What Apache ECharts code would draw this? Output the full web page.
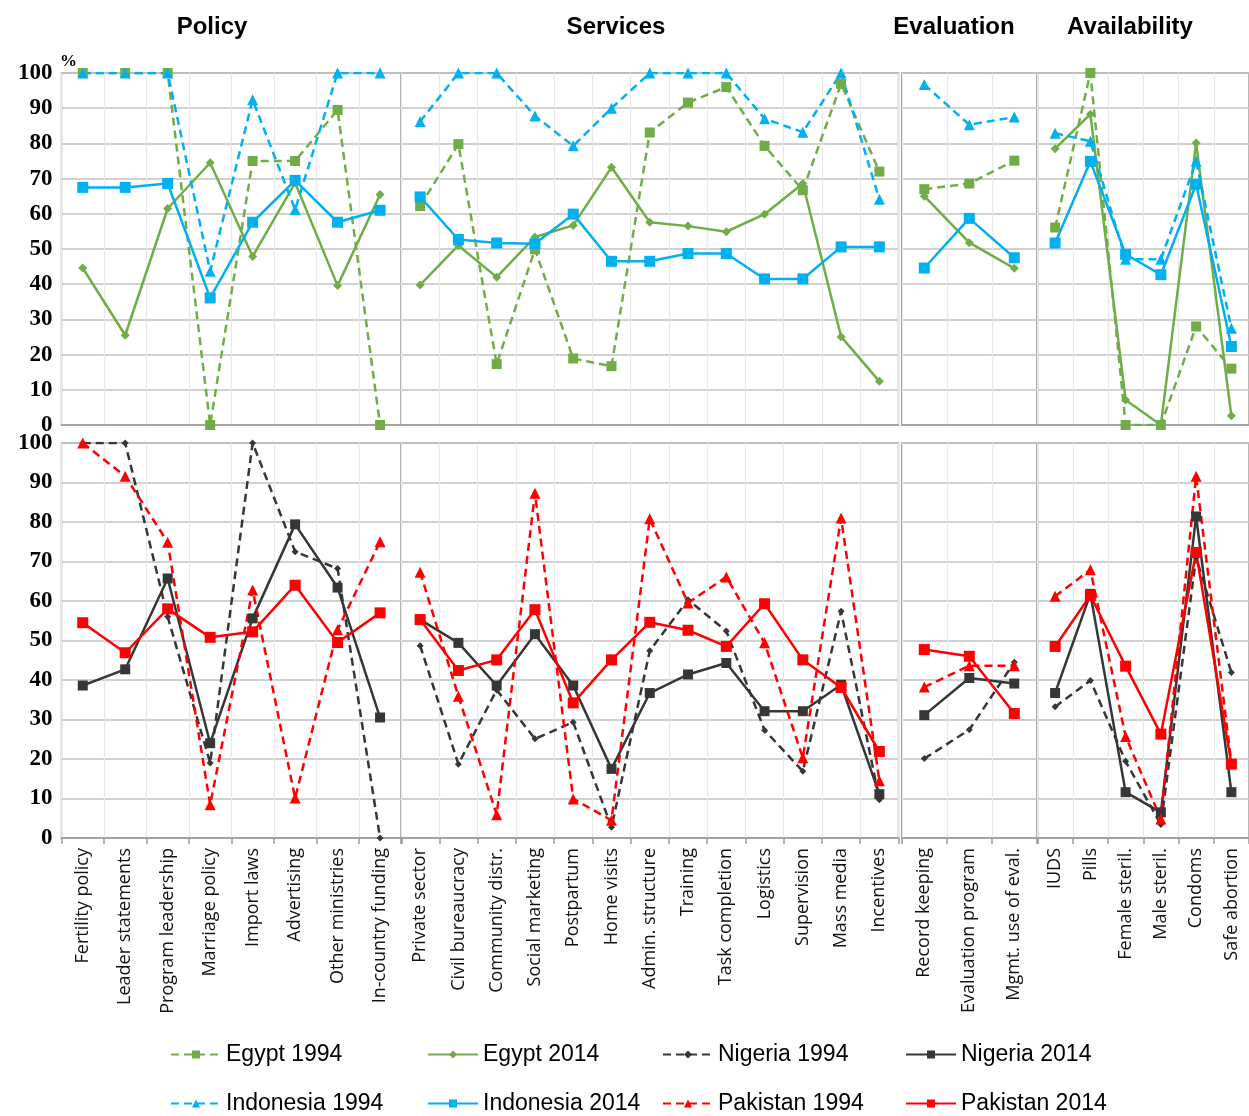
<!DOCTYPE html>
<html>
<head>
<meta charset="utf-8">
<title>Family planning program effort, 1994 and 2014</title>
<script src="https://cdn.jsdelivr.net/npm/echarts@6/dist/echarts.min.js"></script>
<style>
  html, body { margin: 0; padding: 0; background: #fff; }
  #chart { width: 1249px; height: 1116px; }
</style>
</head>
<body>
<div id="chart"></div>
<script>
// Category groups (one panel column each)
const policyCats = ['Fertility policy', 'Leader statements', 'Program leadership', 'Marriage policy',
  'Import laws', 'Advertising', 'Other ministries', 'In-country funding'];
const servicesCats = ['Private sector', 'Civil bureaucracy', 'Community distr.', 'Social marketing',
  'Postpartum', 'Home visits', 'Admin. structure', 'Training', 'Task completion', 'Logistics',
  'Supervision', 'Mass media', 'Incentives'];
const evaluationCats = ['Record keeping', 'Evaluation program', 'Mgmt. use of eval.'];
const availabilityCats = ['IUDS', 'Pills', 'Female steril.', 'Male steril.', 'Condoms', 'Safe abortion'];

const groupTitles = ['Policy', 'Services', 'Evaluation', 'Availability'];
const yTicks = [0, 10, 20, 30, 40, 50, 60, 70, 80, 90, 100];

// Scores (%) in category order: policy | services | evaluation | availability
const egypt1994 = [100, 100, 100, 0, 75, 75, 89.5, 0,
  62.2, 79.8, 17.3, 49.9, 18.9, 16.7, 83.1, 91.6, 96, 79.3, 66.7, 96.9, 72,
  67, 68.6, 75.1,
  56.1, 100, 0, 0, 28, 16];
const egypt2014 = [44.6, 25.5, 61.5, 74.5, 47.9, 68.8, 39.6, 65.5,
  39.8, 51, 42, 53.4, 56.7, 73.2, 57.6, 56.5, 54.9, 59.9, 68.6, 25.1, 12.4,
  65, 51.8, 44.5,
  78.5, 88.3, 7.1, 0, 80.1, 2.6];
const indonesia1994 = [100, 100, 100, 43.7, 92.4, 61.2, 100, 100,
  86.2, 100, 100, 87.8, 79.3, 90, 100, 100, 100, 87, 83.2, 100, 64.1,
  96.7, 85.3, 87.5,
  82.9, 80.6, 47.1, 47.1, 74.9, 27.5];
const indonesia2014 = [67.5, 67.5, 68.6, 36.1, 57.6, 69.5, 57.6, 61,
  64.8, 52.7, 51.7, 51.5, 59.9, 46.5, 46.5, 48.7, 48.7, 41.5, 41.5, 50.6, 50.6,
  44.6, 58.7, 47.5,
  51.7, 74.9, 48.5, 42.7, 68.4, 22.3];
const nigeria1994 = [100, 100, 56, 19, 100, 72.5, 68.2, 0,
  48.7, 18.7, 37.5, 25.1, 29.3, 2.7, 47.4, 60.3, 52.4, 27.3, 16.9, 57.4, 9.7,
  20.1, 27.4, 44.5,
  33.2, 39.9, 19.4, 3.4, 71, 41.9];
const nigeria2014 = [38.6, 42.7, 65.7, 24, 55.6, 79.4, 63.4, 30.5,
  55.3, 49.4, 38.6, 51.6, 38.6, 17.5, 36.7, 41.4, 44.3, 32.1, 32.1, 38.8, 11.1,
  31.1, 40.5, 39.1,
  36.7, 61.8, 11.6, 6.5, 81.4, 11.6];
const pakistan1994 = [100, 91.6, 74.9, 8.4, 62.8, 10.1, 52.7, 75,
  67.3, 35.9, 5.9, 87.3, 9.9, 4.5, 80.8, 59.5, 66.1, 49.4, 20.3, 81, 14.5,
  38.2, 43.6, 43.6,
  61.2, 67.9, 25.7, 4.8, 91.6, 19];
const pakistan2014 = [54.5, 46.9, 58, 50.8, 52.2, 64, 49.5, 57,
  55.3, 42.4, 45.1, 57.8, 34.2, 45.1, 54.6, 52.6, 48.5, 59.3, 45.1, 38.1, 21.9,
  47.7, 46, 31.5,
  48.5, 61.4, 43.5, 26.3, 72.3, 18.7];

const groups = [policyCats, servicesCats, evaluationCats, availabilityCats];

// Panel geometry
const columns = [
  { left: 61.5, width: 339.8, center: 212 },
  { left: 401, width: 497.5, center: 616 },
  { left: 901.8, width: 135, center: 954 },
  { left: 1037.5, width: 220, center: 1130 }
];
const rows = [{ top: 73, height: 352 }, { top: 443, height: 395 }];

const GREEN = '#70ad47', BLUE = '#00b0f0', DARK = '#363636', RED = '#ff0000';
const DASH = [8, 5];

const seriesDefs = [
  { name: 'Egypt 1994', values: egypt1994, row: 0, color: GREEN, dashed: true, symbol: 'rect', size: 10 },
  { name: 'Egypt 2014', values: egypt2014, row: 0, color: GREEN, dashed: false, symbol: 'diamond', size: 9 },
  { name: 'Indonesia 1994', values: indonesia1994, row: 0, color: BLUE, dashed: true, symbol: 'triangle', size: 11 },
  { name: 'Indonesia 2014', values: indonesia2014, row: 0, color: BLUE, dashed: false, symbol: 'rect', size: 11 },
  { name: 'Nigeria 1994', values: nigeria1994, row: 1, color: DARK, dashed: true, symbol: 'diamond', size: 7 },
  { name: 'Nigeria 2014', values: nigeria2014, row: 1, color: DARK, dashed: false, symbol: 'rect', size: 10 },
  { name: 'Pakistan 1994', values: pakistan1994, row: 1, color: RED, dashed: true, symbol: 'triangle', size: 11 },
  { name: 'Pakistan 2014', values: pakistan2014, row: 1, color: RED, dashed: false, symbol: 'rect', size: 11 }
];

const grid = [], xAxis = [], yAxis = [], series = [];

rows.forEach(function (r, ri) {
  columns.forEach(function (c, ci) {
    grid.push({
      left: c.left, top: r.top, width: c.width, height: r.height,
      show: true, borderColor: '#9a9a9a', borderWidth: 1.5, backgroundColor: 'transparent'
    });
    const gi = ri * 4 + ci;
    const isBottom = ri === 1;
    xAxis.push({
      gridIndex: gi, type: 'category', data: groups[ci], boundaryGap: true,
      axisLine: { show: true, lineStyle: { color: '#9a9a9a', width: 1.5 } },
      axisTick: { show: isBottom, length: 6, lineStyle: { color: '#9a9a9a', width: 1.5 } },
      axisLabel: {
        show: isBottom, interval: 0, rotate: 90, margin: 10,
        fontFamily: 'Open Sans', fontSize: 18, color: '#111'
      },
      splitLine: { show: true, lineStyle: { color: '#e8e8e8', width: 1.2 } }
    });
    yAxis.push({
      gridIndex: gi, type: 'value', min: yTicks[0], max: yTicks[yTicks.length - 1], interval: 10,
      axisLine: { show: false }, axisTick: { show: false },
      axisLabel: {
        show: ci === 0, margin: 9,
        fontFamily: 'Liberation Serif', fontWeight: 'bold', fontSize: 23, color: '#000'
      },
      splitLine: { show: true, lineStyle: { color: '#c2c2c2', width: 1.5 } }
    });
  });
});

seriesDefs.forEach(function (d) {
  let offset = 0;
  groups.forEach(function (cats, ci) {
    const gi = d.row * 4 + ci;
    series.push({
      name: d.name, type: 'line', xAxisIndex: gi, yAxisIndex: gi,
      data: d.values.slice(offset, offset + cats.length),
      symbol: d.symbol, symbolSize: d.size, showSymbol: true,
      itemStyle: { color: d.color },
      lineStyle: { color: d.color, width: 2.5, type: d.dashed ? DASH : 'solid' },
      emphasis: { disabled: true }
    });
    offset += cats.length;
  });
});

// Legend: two rows of four, each entry placed on its own
const legendSpots = [
  ['Egypt 1994', 170, 0], ['Egypt 2014', 427, 0], ['Nigeria 1994', 662, 0], ['Nigeria 2014', 905, 0],
  ['Indonesia 1994', 170, 1], ['Indonesia 2014', 427, 1], ['Pakistan 1994', 662, 1], ['Pakistan 2014', 905, 1]
];
const legend = legendSpots.map(function (s) {
  return {
    data: [s[0]], left: s[1], top: s[2] === 0 ? 1043 : 1092, padding: 0,
    itemWidth: 50, itemHeight: 10, itemGap: 0, selectedMode: false,
    textStyle: { fontFamily: 'Liberation Sans', fontSize: 23, color: '#000' }
  };
});

const graphic = groupTitles.map(function (t, i) {
  return {
    type: 'text', x: columns[i].center, y: 27,
    style: {
      text: t, font: 'bold 24px "Liberation Sans", Arial, sans-serif', fill: '#000',
      align: 'center', verticalAlign: 'middle', textAlign: 'center', textVerticalAlign: 'middle'
    }
  };
});
graphic.push({
  type: 'text', x: 60, y: 62,
  style: {
    text: '%', font: 'bold 17px "Liberation Serif", serif', fill: '#000',
    align: 'left', verticalAlign: 'middle', textAlign: 'left', textVerticalAlign: 'middle'
  }
});

const chart = echarts.init(document.getElementById('chart'), null, { renderer: 'canvas' });
chart.setOption({
  animation: false,
  backgroundColor: '#fff',
  grid: grid,
  xAxis: xAxis,
  yAxis: yAxis,
  series: series,
  legend: legend,
  graphic: graphic
});
</script>
</body>
</html>
